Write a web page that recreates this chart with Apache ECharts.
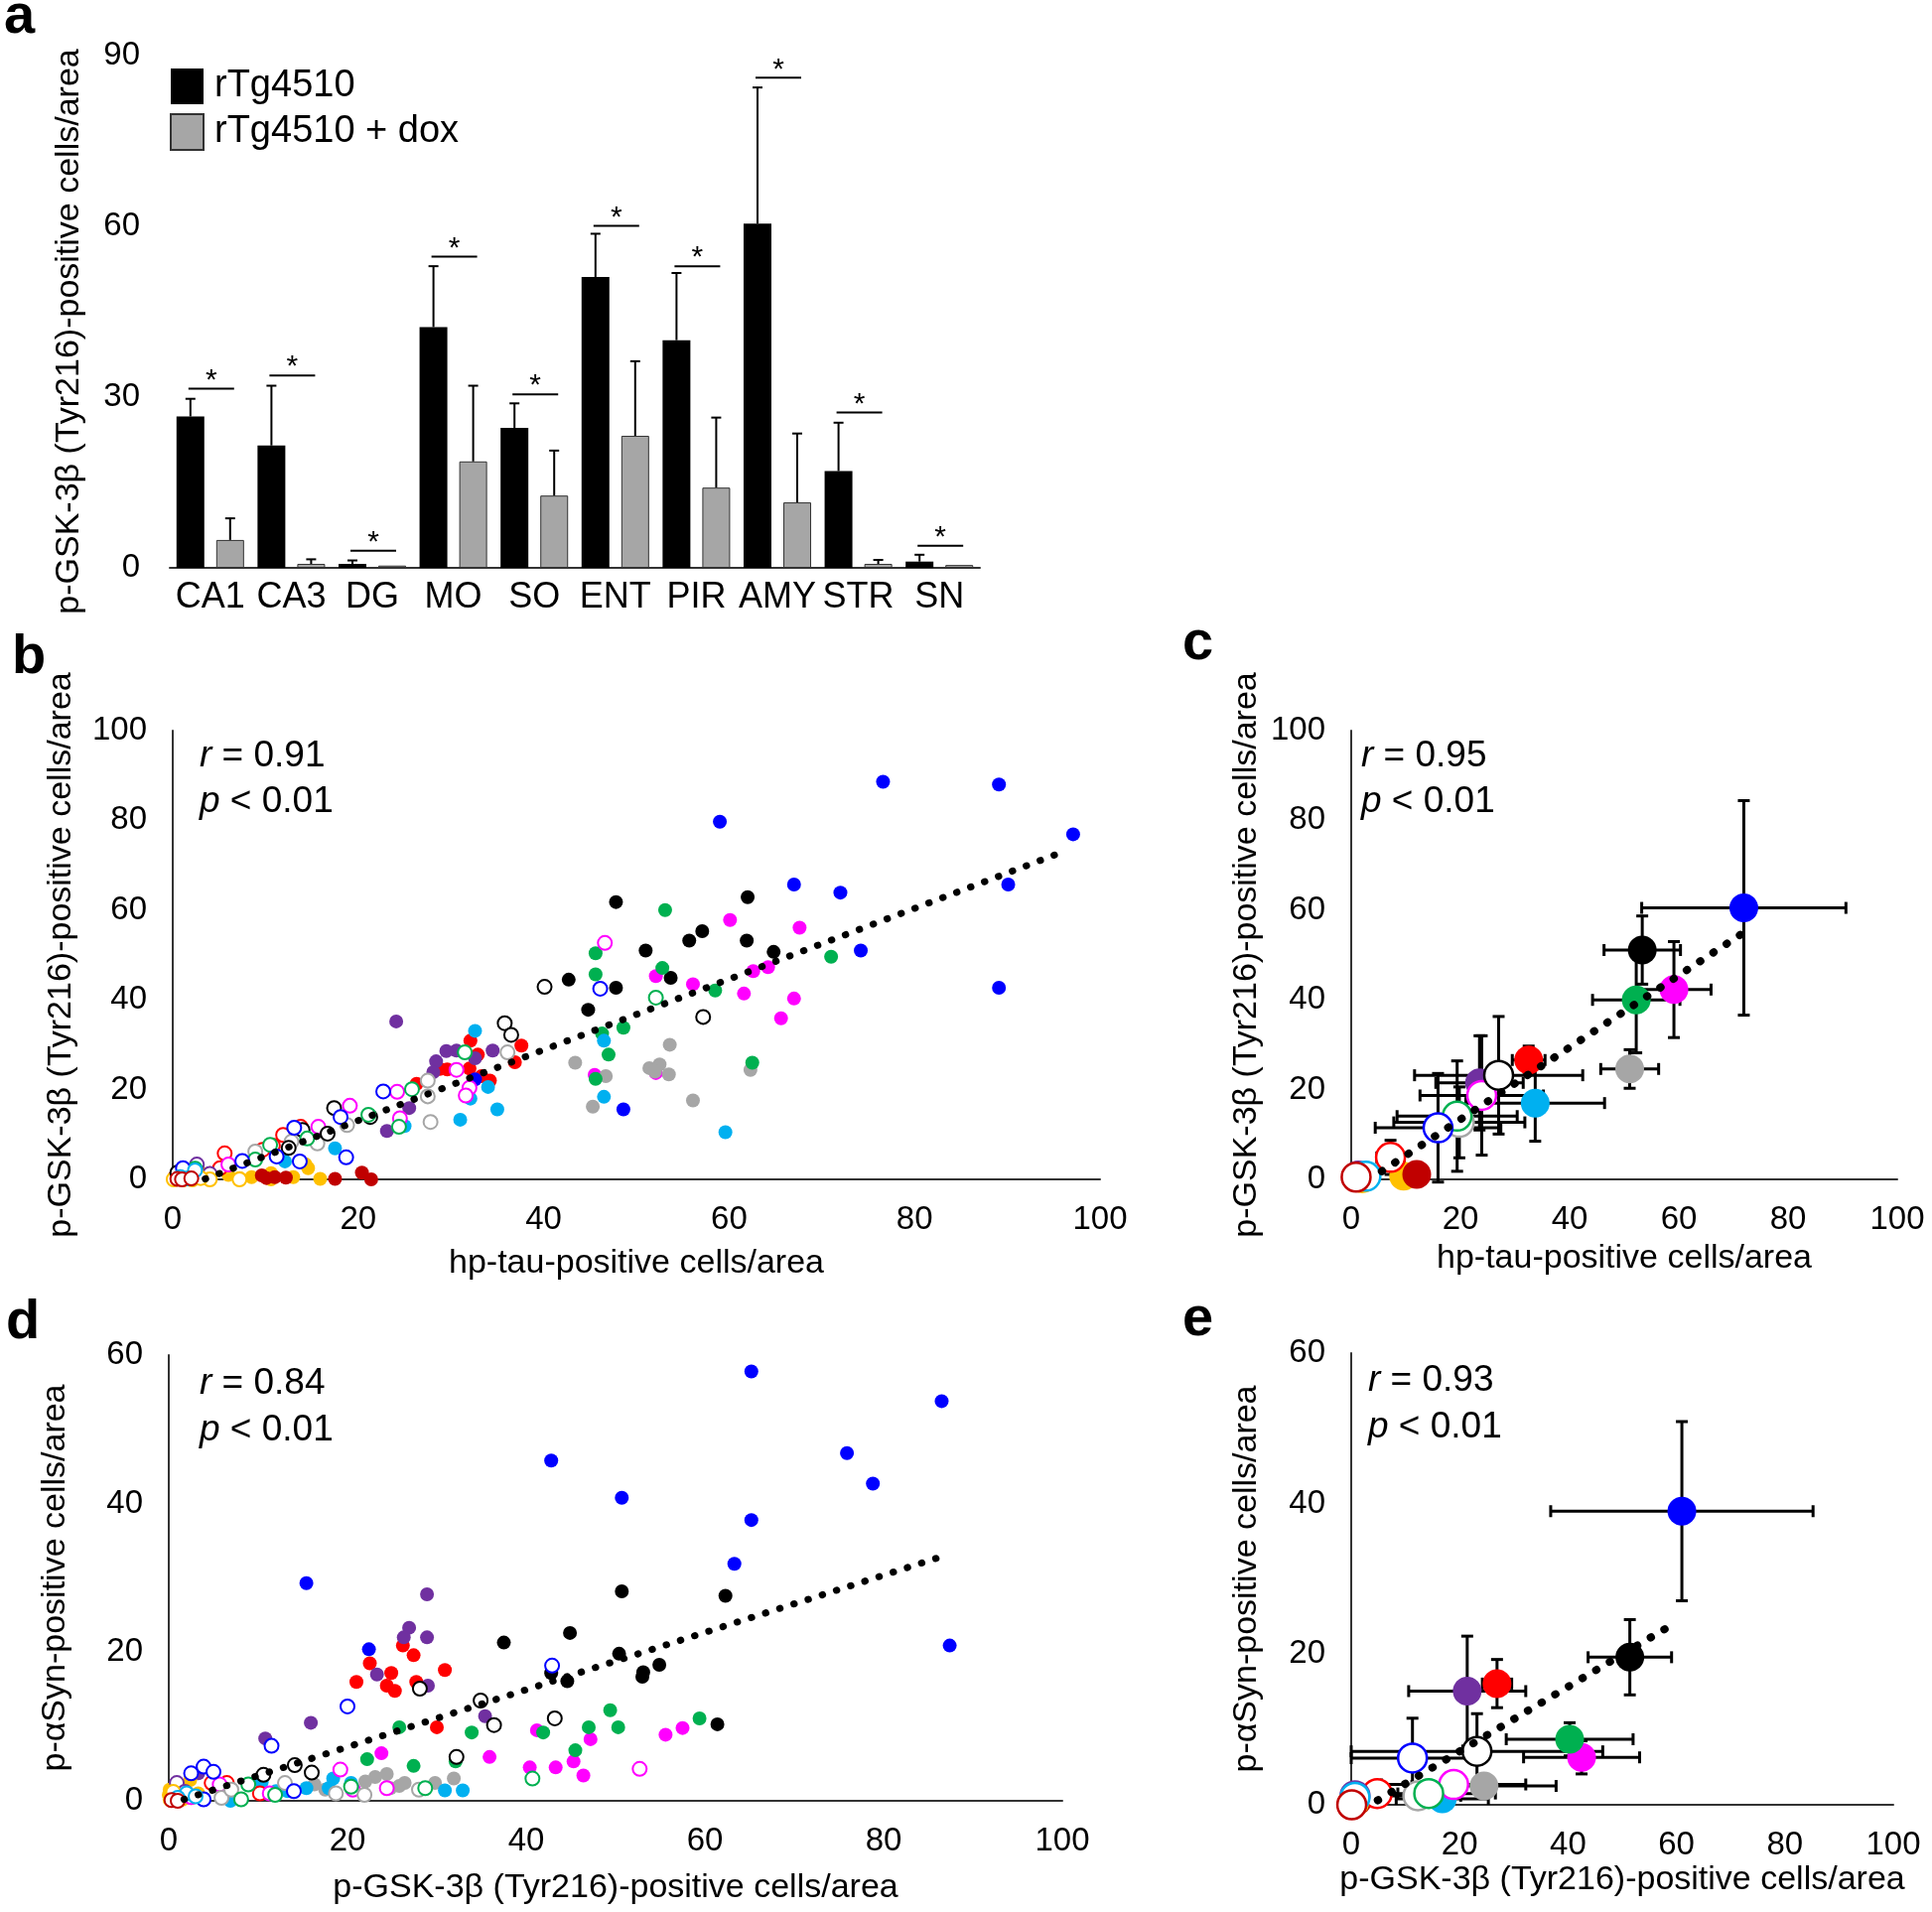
<!DOCTYPE html>
<html><head><meta charset="utf-8">
<script src="https://cdn.jsdelivr.net/npm/echarts@6/dist/echarts.min.js"></script>
<style>html,body{margin:0;padding:0;background:#fff}#chart{width:1946px;height:1926px}</style>
</head><body><div id="chart"></div>
<script>
const FONT = "'Liberation Sans', Arial, Helvetica, sans-serif";

// ---------- Panel a: bars ----------
const regions = ['CA1','CA3','DG','MO','SO','ENT','PIR','AMY','STR','SN'];
const barTg     = [26.6, 21.5, 0.7, 42.3, 24.6, 51.1, 40.0, 60.5, 17.0, 1.1];
const barTgErr  = [3.1, 10.5, 0.6, 10.7, 4.3, 7.6, 11.8, 23.9, 8.5, 1.2];
const barDox    = [4.9, 0.7, 0.4, 18.7, 12.7, 23.2, 14.1, 11.5, 0.7, 0.5];
const barDoxErr = [3.8, 0.8, 0.0, 13.3, 7.9, 13.1, 12.3, 12.1, 0.7, 0.0];
const sigLevel  = [31.5, 33.8, 3.0, 54.7, 30.5, 60.1, 53.0, 86.1, 27.3, 3.9];
const aTicks = [0, 30, 60, 90];

// ---------- Panel b: hp-tau (x) vs p-GSK-3β (y), individual animals ----------
const b_CA1 = [[32.1,30.9],[32.9,27.8],[32.0,24.7],[33.3,23.0],[29.6,24.5],[28.8,24.6],[26.3,21.3],[37.6,29.8],[36.9,26.1],[34.2,22.0]];
const b_CA3 = [[24.1,35.2],[30.6,28.7],[34.5,28.7],[28.4,26.3],[32.6,27.0],[28.1,23.9],[25.5,15.9],[23.1,10.8],[29.5,28.6]];
const b_DG  = [[14.3,3.4],[14.6,2.5],[15.9,0.1],[13.0,0.5],[10.6,1.4],[8.5,0.5],[6.0,1.0],[3.1,1.4],[10.6,0.0],[7.2,0.3]];
const b_MO  = [[60.1,57.8],[67.6,56.1],[52.1,45.3],[56.1,43.5],[62.6,46.4],[64.2,47.3],[61.6,41.4],[67.0,40.3],[65.6,35.9],[52.1,23.7],[45.5,23.3]];
const b_SO  = [[53.6,30.0],[51.4,24.8],[52.5,25.6],[53.5,23.4],[62.3,24.4],[56.1,17.6],[46.7,23.0],[43.4,26.0],[45.3,16.2],[52.0,24.0]];
const b_ENT = [[47.8,61.8],[62.0,62.9],[57.1,55.3],[55.7,53.2],[61.9,53.2],[51.0,51.0],[64.8,50.7],[53.7,44.9],[47.8,42.7],[42.7,44.5],[44.8,37.8]];
const b_PIR = [[53.1,60.0],[71.0,49.6],[52.8,47.1],[58.5,42.1],[48.6,33.8],[47.0,27.8],[62.5,26.0],[45.6,50.4],[45.6,45.7],[46.3,32.5],[45.6,22.4]];
const b_AMY = [[76.6,88.6],[89.1,88.0],[97.1,76.9],[59.0,79.7],[67.0,65.7],[72.0,63.9],[90.1,65.7],[74.2,51.0],[89.1,42.7],[48.6,15.6],[32.6,22.3]];
const b_STR = [[46.5,30.9],[46.5,18.4],[59.6,10.5],[32.6,33.1],[34.0,20.6],[32.1,18.0],[35.0,15.6],[31.0,13.3],[25.0,11.9],[17.5,6.9],[12.1,4.0]];
const b_SN  = [[17.5,0.1],[20.4,1.5],[21.4,0.0],[9.6,0.9],[12.2,0.4],[4.0,1.4],[10.1,0.3],[11.0,0.5]];

const b_CA1_dox = [[5.6,5.8],[11.9,9.9],[13.8,11.7],[5.1,2.5],[9.7,6.6],[0.3,0.5],[10.8,7.5],[2.0,0.8]];
const b_CA3_dox = [[2.6,3.3],[1.5,1.0],[4.0,1.2]];
const b_DG_dox  = [[0.1,0.0],[1.1,0.0],[2.1,0.0],[4.0,0.0],[7.2,0.0],[3.0,0.3]];
const b_MO_dox  = [[46.6,52.7],[30.6,24.4],[32.0,20.4],[31.6,18.7],[24.2,19.5],[24.5,13.6],[19.1,16.4],[15.7,11.7],[6.0,3.3]];
const b_SO_dox  = [[27.8,12.8],[27.5,18.5],[27.5,22.0],[36.1,28.3],[18.8,12.1],[15.6,8.0],[12.8,8.4],[8.9,6.2]];
const b_ENT_dox = [[40.1,42.9],[35.8,34.8],[36.5,32.2],[57.2,36.2],[17.4,15.9],[16.7,10.2],[14.0,11.0],[21.3,13.9],[0.5,1.5],[12.5,7.0]];
const b_PIR_dox = [[31.5,28.3],[25.8,20.1],[21.1,14.4],[14.5,9.1],[10.5,7.7],[8.9,4.4],[24.4,11.7],[2.4,2.4],[52.1,40.5]];
const b_AMY_dox = [[22.7,19.6],[18.1,13.9],[13.1,11.5],[11.2,5.1],[18.7,4.9],[13.7,4.0],[7.5,4.1],[1.1,2.5],[46.1,42.5]];
const b_STR_dox = [[2.4,2.0],[0.8,0.5],[1.6,0.2]];
const b_SN_dox  = [[0.5,0.1],[1.0,0.0],[2.0,0.2]];
const trendB = [[3.5,0.1],[96.0,73.0]];

// ---------- Panel c: means ± SD  [x, xErr, y, yErr] ----------
const cTg  = [[32.5,3.0,26.6,3.1],[23.5,8.0,21.5,10.5],[9.6,1.5,0.7,0.6],[59.1,6.8,42.3,10.7],[51.0,5.3,24.6,4.3],
              [53.3,7.0,51.1,7.6],[52.2,8.0,40.0,11.8],[71.9,18.7,60.5,23.9],[33.7,12.7,17.0,8.5],[12.0,2.0,1.1,1.2]];
const cDox = [[7.2,2.5,4.9,3.8],[1.3,1.0,0.7,0.8],[2.0,1.5,0.4,0.3],[23.9,11.3,18.7,13.3],[19.8,12.0,12.7,7.9],
              [27.0,15.4,23.2,13.1],[19.4,11.0,14.1,12.3],[15.9,11.5,11.5,12.1],[2.7,1.5,0.7,0.7],[0.9,0.8,0.5,0.3]];
const trendC = [[5.6,1.8],[71.5,54.7]];

// ---------- Panel d: p-GSK-3β (x) vs p-αSyn (y), individual animals ----------
const d_CA1 = [[26.2,20.9],[27.4,19.6],[22.5,18.5],[24.9,17.2],[21.0,16.0],[24.4,15.5],[25.3,14.8],[27.7,16.0],[30.9,17.6],[30.0,9.9]];
const d_CA3 = [[28.9,27.8],[26.9,23.3],[26.3,22.0],[28.9,22.0],[23.3,17.0],[29.0,15.5],[35.4,11.4],[15.9,10.5],[10.8,8.4],[3.3,3.7]];
const d_DG  = [[2.4,2.8],[0.1,1.5],[0.0,0.8],[3.3,1.0],[1.1,0.2],[0.5,0.0],[0.3,0.4]];
const d_MO  = [[23.8,6.4],[35.9,5.9],[40.4,4.5],[43.3,4.5],[45.3,5.3],[46.4,3.4],[47.2,8.3],[41.2,9.5],[55.6,8.9],[57.5,9.8]];
const d_SO  = [[23.1,3.2],[24.4,3.6],[25.8,2.0],[26.4,2.4],[24.8,1.7],[29.8,2.4],[31.9,3.0],[16.3,2.2],[17.5,1.5],[22.0,2.6]];
const d_ENT = [[50.7,28.2],[62.3,27.6],[50.4,19.8],[53.0,16.7],[54.9,18.3],[61.4,10.3],[37.5,21.3],[44.9,22.6],[44.6,16.1],[42.8,17.2],[53.1,17.3]];
const d_PIR = [[25.8,9.9],[33.9,9.2],[22.2,5.6],[27.4,4.7],[32.1,5.3],[41.9,9.2],[45.5,6.8],[47.0,9.9],[49.4,12.2],[50.3,9.9],[59.4,11.1]];
const d_AMY = [[65.2,57.8],[86.5,53.8],[75.9,46.8],[78.8,42.7],[50.7,40.8],[65.2,37.8],[63.3,31.9],[87.4,20.9],[42.8,45.8],[15.4,29.3],[22.4,20.4]];
const d_STR = [[30.9,1.4],[32.9,1.4],[20.4,2.4],[18.4,3.0],[17.9,1.7],[15.4,1.7],[12.0,1.3],[10.4,2.5],[6.9,0.0],[13.3,1.3]];
const d_SN  = [[0.8,0.2],[2.0,0.5],[1.2,0.1]];

const d_CA1_dox = [[10.2,1.0],[4.8,2.4],[6.5,2.4],[0.6,0.2],[2.0,1.0]];
const d_CA3_dox = [[0.9,2.4],[1.8,1.2],[0.5,0.5]];
const d_DG_dox  = [[0.2,0.2],[1.5,0.3],[2.5,0.5],[0.5,1.2]];
const d_MO_dox  = [[52.7,4.3],[19.2,4.2],[24.4,1.7],[20.6,1.5],[11.3,1.0],[5.7,2.2],[2.5,0.5]];
const d_SO_dox  = [[21.9,0.8],[18.7,1.0],[13.0,2.4],[28.0,1.5],[5.9,0.4],[7.0,1.5]];
const d_ENT_dox = [[28.1,15.1],[34.9,13.5],[36.4,10.2],[43.2,11.1],[32.2,5.9],[14.1,4.8],[16.0,3.8],[10.6,3.5],[1.1,0.3]];
const d_PIR_dox = [[40.7,3.0],[28.7,1.7],[20.4,1.9],[11.9,0.8],[8.1,0.2],[8.9,2.2],[1.0,0.3]];
const d_AMY_dox = [[42.9,18.2],[20.0,12.7],[11.5,7.4],[3.9,4.6],[5.0,3.9],[2.5,3.7],[3.9,0.2],[14.0,1.3]];
const d_STR_dox = [[2.0,1.0],[1.0,0.4],[3.0,0.6]];
const d_SN_dox  = [[0.3,0.1],[1.0,0.0]];
const trendD = [[1.7,0.2],[86.3,32.8]];

// ---------- Panel e: means ± SD  [x, xErr, y, yErr] ----------
const eTg  = [[26.9,2.7,16.1,3.2],[21.4,10.8,15.1,7.3],[0.7,0.6,0.6,0.5],[42.5,10.7,6.3,2.2],[24.5,13.3,2.5,1.0],
              [51.4,7.7,19.6,5.0],[40.3,11.7,8.7,2.2],[61.0,24.2,39.0,11.9],[16.8,8.5,0.8,0.5],[1.1,1.2,0.5,0.4]];
const eDox = [[4.8,3.8,1.5,1.0],[0.7,0.8,1.2,0.8],[0.4,0.3,0.3,0.3],[18.9,13.3,2.7,1.5],[12.3,7.9,1.2,0.8],
              [23.2,23.2,7.1,5.0],[14.3,12.3,1.5,1.0],[11.3,11.3,6.2,5.3],[0.7,0.7,1.0,0.6],[0.1,0.3,0.0,0.2]];
const trendE = [[4.9,0.6],[58.7,23.7]];

const stats = [
  {panel:'b', r:'0.91', p:'0.01'}, {panel:'c', r:'0.95', p:'0.01'},
  {panel:'d', r:'0.84', p:'0.01'}, {panel:'e', r:'0.93', p:'0.01'}
];
const titleGSK = 'p-GSK-3β (Tyr216)-positive cells/area';
const titleTau = 'hp-tau-positive cells/area';
const titleSyn = 'p-αSyn-positive cells/area';

// ---------- styles ----------
const regionColors = ['#ff0000','#7030a0','#ffc000','#ff00ff','#a6a6a6','#000000','#00b050','#0000ff','#00b0f0','#c00000'];
const bFilled = [b_CA1,b_CA3,b_DG,b_MO,b_SO,b_ENT,b_PIR,b_AMY,b_STR,b_SN];
const bOpen   = [b_CA1_dox,b_CA3_dox,b_DG_dox,b_MO_dox,b_SO_dox,b_ENT_dox,b_PIR_dox,b_AMY_dox,b_STR_dox,b_SN_dox];
const dFilled = [d_CA1,d_CA3,d_DG,d_MO,d_SO,d_ENT,d_PIR,d_AMY,d_STR,d_SN];
const dOpen   = [d_CA1_dox,d_CA3_dox,d_DG_dox,d_MO_dox,d_SO_dox,d_ENT_dox,d_PIR_dox,d_AMY_dox,d_STR_dox,d_SN_dox];

const AX = '#333';
function valAxis(gridIndex, max, interval, extra) {
  return Object.assign({
    type:'value', gridIndex, min:0, max, interval,
    axisLine:{show:true, onZero:false, lineStyle:{color:AX, width:2}},
    axisTick:{show:false}, splitLine:{show:false},
    axisLabel:{color:'#000', fontSize:33, fontFamily:FONT, margin:26},
    nameLocation:'middle',
    nameTextStyle:{color:'#000', fontSize:34, fontFamily:FONT}
  }, extra || {});
}

function scatterSeries(idx, data, color, open, size, bw) {
  return {
    type:'scatter', xAxisIndex:idx, yAxisIndex:idx, data, symbolSize:size, clip:false, silent:true,
    z: open ? 3 : 2,
    itemStyle: open ? {color:'#ffffff', borderColor:color, borderWidth:bw, opacity:1} : {color, opacity:1}
  };
}
function trendSeries(idx, data, w, gap) {
  return {type:'line', xAxisIndex:idx, yAxisIndex:idx, data, showSymbol:false, silent:true, z:5, clip:false,
    lineStyle:{color:'#000', width:w, type:[0.5, gap], cap:'round'}};
}
function errRender(params, api) {
  const x = api.value(0), xe = api.value(1), y = api.value(2), ye = api.value(3);
  const st = {stroke:'#000', lineWidth:3};
  const cap = 6;
  const ch = [];
  if (xe > 0) {
    const l = api.coord([x - xe, y]), r = api.coord([x + xe, y]);
    ch.push({type:'line', shape:{x1:l[0], y1:l[1], x2:r[0], y2:r[1]}, style:st});
    ch.push({type:'line', shape:{x1:l[0], y1:l[1]-cap, x2:l[0], y2:l[1]+cap}, style:st});
    ch.push({type:'line', shape:{x1:r[0], y1:r[1]-cap, x2:r[0], y2:r[1]+cap}, style:st});
  }
  if (ye > 0) {
    const t = api.coord([x, y + ye]), b = api.coord([x, y - ye]);
    ch.push({type:'line', shape:{x1:t[0], y1:t[1], x2:b[0], y2:b[1]}, style:st});
    ch.push({type:'line', shape:{x1:t[0]-cap, y1:t[1], x2:t[0]+cap, y2:t[1]}, style:st});
    ch.push({type:'line', shape:{x1:b[0]-cap, y1:b[1], x2:b[0]+cap, y2:b[1]}, style:st});
  }
  return {type:'group', children:ch};
}
function errSeries(idx, rows) {
  return {type:'custom', xAxisIndex:idx, yAxisIndex:idx, data:rows, renderItem:errRender,
    encode:{x:0, y:2}, clip:false, silent:true, z:1};
}
function barErr(offset) {
  return function(params, api) {
    const i = api.value(0), v = api.value(1), e = api.value(2);
    if (!(e > 0)) return null;
    const base = api.coord([i, v]), top = api.coord([i, v + e]);
    const x = base[0] + offset;
    const st = {stroke:'#000', lineWidth:2};
    return {type:'group', children:[
      {type:'line', shape:{x1:x, y1:base[1], x2:x, y2:top[1]}, style:st},
      {type:'line', shape:{x1:x-5, y1:top[1], x2:x+5, y2:top[1]}, style:st}
    ]};
  };
}

const series = [];
// panel a
series.push({type:'bar', name:'rTg4510', xAxisIndex:0, yAxisIndex:0, data:barTg, barWidth:28, barGap:'43%',
  itemStyle:{color:'#000'}, silent:true});
series.push({type:'bar', name:'rTg4510 + dox', xAxisIndex:0, yAxisIndex:0, data:barDox, barWidth:28, barGap:'43%',
  itemStyle:{color:'#a6a6a6', borderColor:'#333', borderWidth:1}, silent:true});
series.push({type:'custom', xAxisIndex:0, yAxisIndex:0, data:barTg.map((v,i)=>[i, v, barTgErr[i]]),
  renderItem:barErr(-20), encode:{x:0, y:1}, silent:true, z:3});
series.push({type:'custom', xAxisIndex:0, yAxisIndex:0, data:barDox.map((v,i)=>[i, v, barDoxErr[i]]),
  renderItem:barErr(20), encode:{x:0, y:1}, silent:true, z:3});
series.push({type:'custom', xAxisIndex:0, yAxisIndex:0, data:sigLevel.map((v,i)=>[i, v]), silent:true, z:3,
  encode:{x:0, y:1},
  renderItem:function(params, api){
    const c = api.coord([api.value(0), api.value(1)]);
    return {type:'group', children:[
      {type:'line', shape:{x1:c[0]-22, y1:c[1], x2:c[0]+24, y2:c[1]}, style:{stroke:'#000', lineWidth:2}},
      {type:'text', style:{text:'*', x:c[0]+1, y:c[1]-8, align:'center', verticalAlign:'middle',
        font:'30px ' + FONT, fill:'#000'}}
    ]};
  }});

// panel b
bFilled.forEach((d,i)=>series.push(scatterSeries(1, d, regionColors[i], false, 14, 2)));
bOpen.forEach((d,i)=>series.push(scatterSeries(1, d, regionColors[i], true, 14, 2)));
series.push(trendSeries(1, trendB, 7, 14.5));
// panel c
series.push(errSeries(2, cTg));
series.push(errSeries(2, cDox));
cTg.forEach((r,i)=>series.push(scatterSeries(2, [[r[0], r[2]]], regionColors[i], false, 29, 2.5)));
cDox.forEach((r,i)=>series.push(scatterSeries(2, [[r[0], r[2]]], regionColors[i], true, 29, 2.5)));
series.push(trendSeries(2, trendC, 8, 15.5));
// panel d
dFilled.forEach((d,i)=>series.push(scatterSeries(3, d, regionColors[i], false, 14, 2)));
dOpen.forEach((d,i)=>series.push(scatterSeries(3, d, regionColors[i], true, 14, 2)));
series.push(trendSeries(3, trendD, 7, 14.5));
// panel e
series.push(errSeries(4, eTg));
series.push(errSeries(4, eDox));
eTg.forEach((r,i)=>series.push(scatterSeries(4, [[r[0], r[2]]], regionColors[i], false, 29, 2.5)));
eDox.forEach((r,i)=>series.push(scatterSeries(4, [[r[0], r[2]]], regionColors[i], true, 29, 2.5)));
series.push(trendSeries(4, trendE, 8, 15.5));

// stats text & panel letters
const statPos = {b:[201,762,808], c:[1371,762,808], d:[201,1394,1441], e:[1378,1391,1438]};
const rich = {i:{fontStyle:'italic', fontSize:37, fontFamily:FONT, fill:'#000'}, n:{fontSize:37, fontFamily:FONT, fill:'#000'}};
const graphic = [];
stats.forEach(s=>{
  const p = statPos[s.panel];
  graphic.push({type:'text', x:p[0], y:p[1], silent:true, style:{text:'{i|r}{n| = ' + s.r + '}', rich, verticalAlign:'middle', align:'left', font:'37px ' + FONT}});
  graphic.push({type:'text', x:p[0], y:p[2], silent:true, style:{text:'{i|p}{n| < ' + s.p + '}', rich, verticalAlign:'middle', align:'left', font:'37px ' + FONT}});
});
const letters = [['a',4,18],['b',12,663],['c',1191,649],['d',6,1333],['e',1191,1330]];
letters.forEach(l=>graphic.push({type:'text', x:l[1], y:l[2], silent:true,
  style:{text:l[0], font:'bold 56px ' + FONT, fill:'#000', verticalAlign:'middle', align:'left'}}));
// panel a y-axis title (placed like the reference, slightly below grid centre)
graphic.push({type:'text', x:70, y:334, rotation:Math.PI/2, silent:true,
  style:{text:titleGSK, font:'34px ' + FONT, fill:'#000', align:'center', verticalAlign:'middle'}});

const option = {
  animation:false,
  backgroundColor:'#fff',
  textStyle:{fontFamily:FONT},
  legend:{data:['rTg4510','rTg4510 + dox'], orient:'vertical', left:166, top:63, itemWidth:33, itemHeight:36, itemGap:8,
    icon:'rect',
    textStyle:{fontSize:38, color:'#000', fontFamily:FONT, padding:[0,0,0,6]}, selectedMode:false},
  grid:[
    {left:171, top:56, width:816, height:516, outerBoundsMode:'none'},
    {left:174, top:736, width:934, height:452, outerBoundsMode:'none'},
    {left:1361, top:736, width:550, height:452, outerBoundsMode:'none'},
    {left:170, top:1365, width:900, height:449, outerBoundsMode:'none'},
    {left:1361, top:1363, width:546, height:455, outerBoundsMode:'none'}
  ],
  xAxis:[
    {type:'category', gridIndex:0, data:regions, axisLine:{lineStyle:{color:AX, width:2}}, axisTick:{show:false},
      axisLabel:{color:'#000', fontSize:36, fontFamily:FONT, margin:12, interval:0}},
    valAxis(1, 100, 20, {name:titleTau, nameGap:68, axisLabel:{color:'#000', fontSize:33, fontFamily:FONT, margin:24}}),
    valAxis(2, 100, 20, {name:titleTau, nameGap:63, axisLabel:{color:'#000', fontSize:33, fontFamily:FONT, margin:24}}),
    valAxis(3, 100, 20, {name:titleGSK, nameGap:71, axisLabel:{color:'#000', fontSize:33, fontFamily:FONT, margin:24}}),
    valAxis(4, 100, 20, {name:titleGSK, nameGap:59, axisLabel:{color:'#000', fontSize:33, fontFamily:FONT, margin:24}})
  ],
  yAxis:[
    valAxis(0, aTicks[aTicks.length-1], aTicks[1]-aTicks[0], {axisLine:{show:false},
      axisLabel:{color:'#000', fontSize:33, fontFamily:FONT, margin:30}}),
    valAxis(1, 100, 20, {name:titleGSK, nameGap:95}),
    valAxis(2, 100, 20, {name:titleGSK, nameGap:88}),
    valAxis(3, 60, 20, {name:titleSyn, nameGap:97}),
    valAxis(4, 60, 20, {name:titleSyn, nameGap:88})
  ],
  graphic,
  series
};
const chart = echarts.init(document.getElementById('chart'), null, {renderer:'canvas'});
chart.setOption(option);
</script></body></html>
